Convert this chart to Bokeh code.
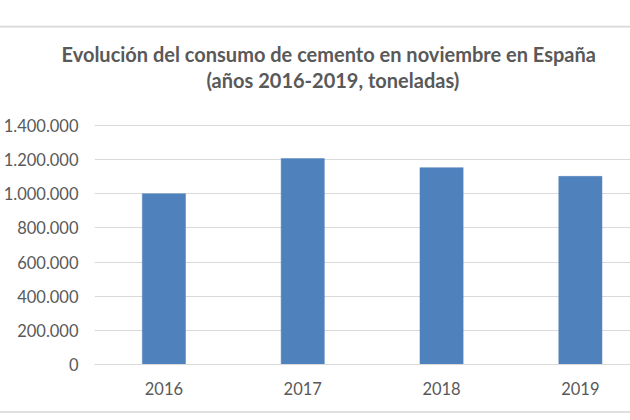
from bokeh.plotting import figure
from bokeh.models import Range1d, FixedTicker, Title
from bokeh.embed import file_html
from bokeh.resources import INLINE

years = ["2016", "2017", "2018", "2019"]
consumo = [1000000, 1206000, 1153000, 1102000]
y_ticks = [0, 200000, 400000, 600000, 800000, 1000000, 1200000, 1400000]
y_tick_labels = ["0", "200.000", "400.000", "600.000", "800.000",
                 "1.000.000", "1.200.000", "1.400.000"]
title_lines = ["Evolución del consumo de cemento en noviembre en España",
               "(años 2016-2019, toneladas)"]

W, H = 630, 413
TXT = "#595959"
GRID = "#d9d9d9"
FONT = "Lato"

x_pos = [i + 0.5 for i in range(len(years))]

p = figure(width=W, height=H, output_backend="svg", toolbar_location=None,
           title=None,
           x_range=Range1d(0, 3.861), y_range=Range1d(0, 1411715),
           min_border_left=93, min_border_right=0,
           min_border_top=123, min_border_bottom=49)
p.outline_line_color = None
p.background_fill_color = "white"
p.border_fill_color = "white"
p.styles = {"border-bottom": "2px solid #e0e0e0"}

p.vbar(x=x_pos, top=consumo, width=0.311, bottom=0,
       fill_color="#4f81bd", line_color="#4f81bd", line_width=0.5)

p.xgrid.grid_line_color = None
p.ygrid.grid_line_color = GRID
p.ygrid.grid_line_width = 1
p.ygrid.ticker = FixedTicker(ticks=y_ticks)

p.yaxis.ticker = FixedTicker(ticks=y_ticks)
p.yaxis.major_label_overrides = {t: l for t, l in zip(y_ticks, y_tick_labels)}
p.yaxis.axis_line_color = None
p.yaxis.major_tick_line_color = None
p.yaxis.minor_tick_line_color = None
p.yaxis.major_tick_in = 0
p.yaxis.major_tick_out = 0
p.yaxis.major_label_standoff = 16
p.yaxis.major_label_text_font = FONT
p.yaxis.major_label_text_font_size = "16.5px"
p.yaxis.major_label_text_color = TXT

p.xaxis.ticker = FixedTicker(ticks=x_pos)
p.xaxis.major_label_overrides = {x: y for x, y in zip(x_pos, years)}
p.xaxis.axis_line_color = GRID
p.xaxis.axis_line_width = 1
p.xaxis.major_tick_line_color = None
p.xaxis.minor_tick_line_color = None
p.xaxis.major_tick_in = 0
p.xaxis.major_tick_out = 0
p.xaxis.major_label_standoff = 17
p.xaxis.major_label_text_font = FONT
p.xaxis.major_label_text_font_size = "16.5px"
p.xaxis.major_label_text_color = TXT

# above panel, listed from the frame outward
spacer = Title(text=" ", text_font_size="1px", standoff=29)
line2 = Title(text=title_lines[1], align="left", offset=112, standoff=0,
              text_font=FONT, text_font_style="bold", text_font_size="20px",
              text_color=TXT)
line1 = Title(text=title_lines[0], align="left", offset=-33, standoff=0,
              text_font=FONT, text_font_style="bold", text_font_size="20px",
              text_color=TXT)
top_rule = Title(text=" ", align="center", text_font_size="1.5px", standoff=24,
                 background_fill_color=GRID, padding=(400, 0))
for t in [spacer, line2, line1, top_rule]:
    p.add_layout(t, "above")

open("out.html", "w").write(file_html(p, INLINE))
